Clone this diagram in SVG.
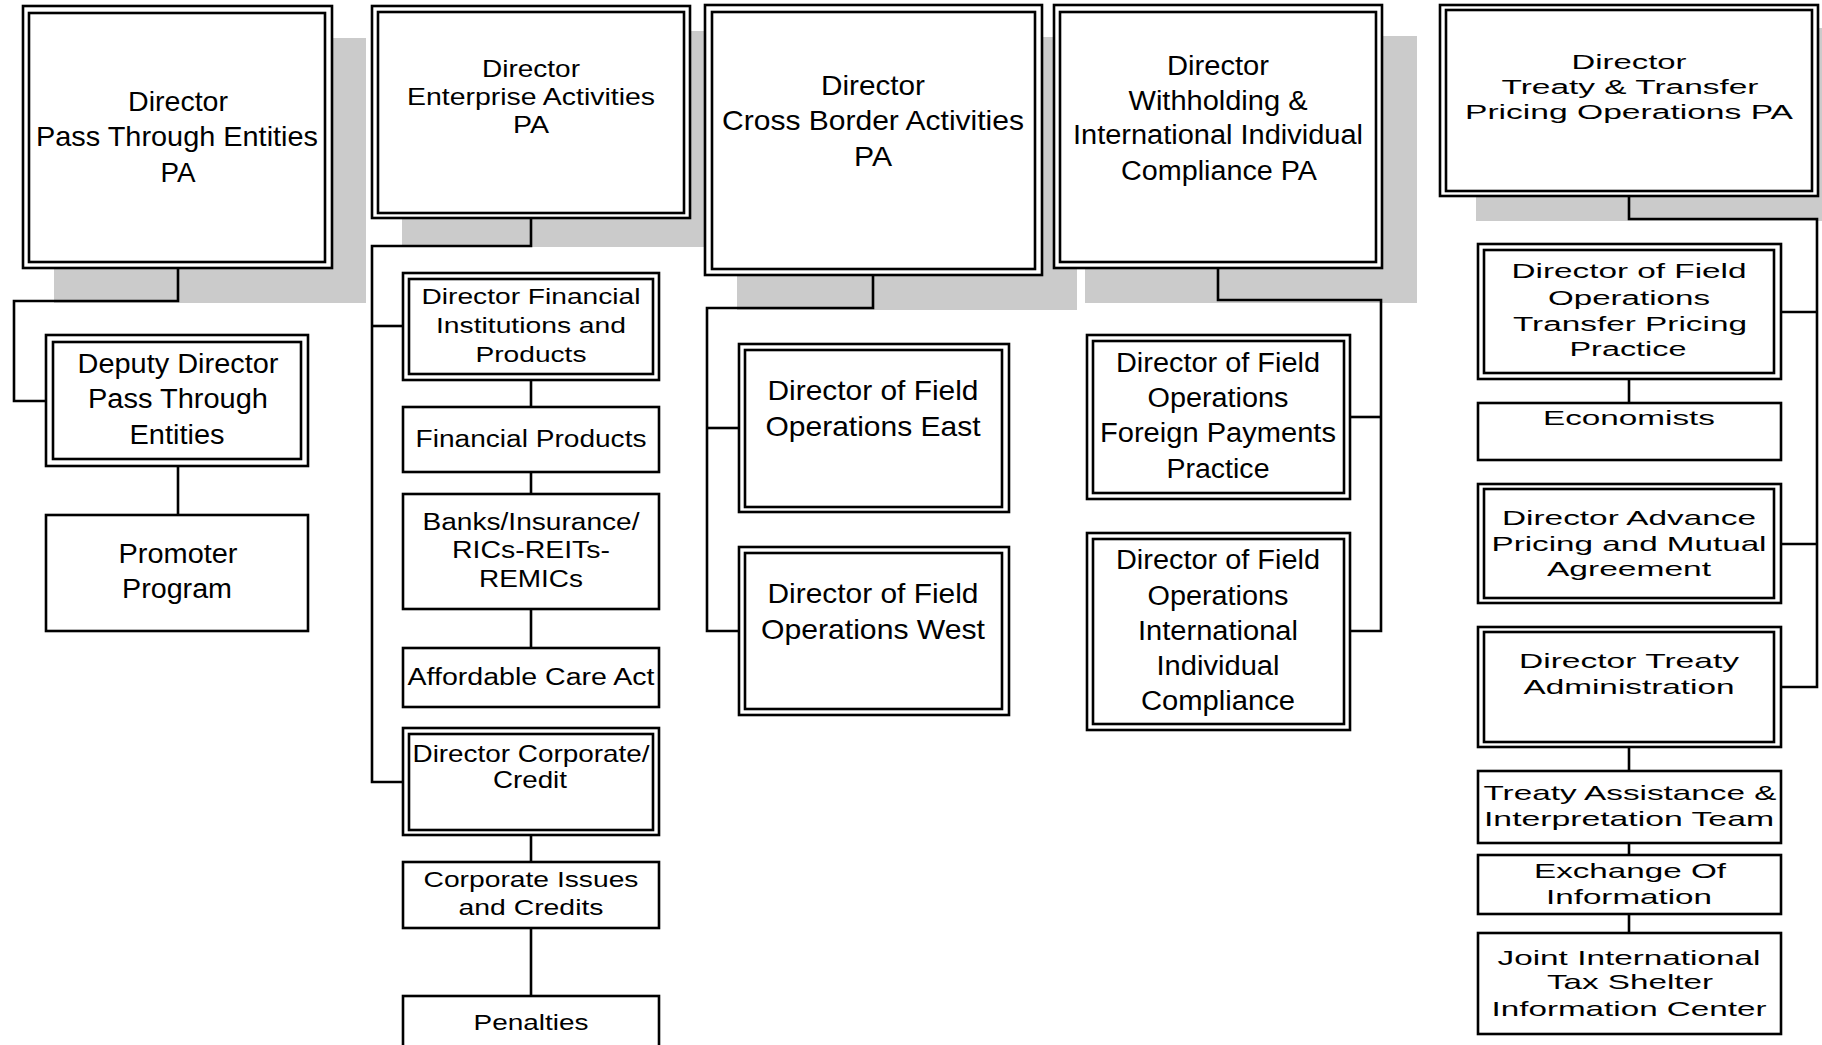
<svg xmlns="http://www.w3.org/2000/svg" width="1822" height="1045" viewBox="0 0 1822 1045">
<style>
.bg{fill:#ffffff}
.sh{fill:#cbcbcb;stroke:none}
.box{fill:#ffffff;stroke:#000;stroke-width:2.6}
.in{fill:none;stroke:#000;stroke-width:2.6}
.cn{fill:none;stroke:#000;stroke-width:2.6;stroke-linejoin:miter}
text{font-family:"Liberation Sans",Arial,sans-serif;fill:#000;text-anchor:middle}
.f28{font-size:28px}.f27{font-size:27px}.f24{font-size:24px}.f23{font-size:23px}.f22{font-size:22px}.f21{font-size:21px}.f20{font-size:20px}
</style>
<rect class="bg" x="0" y="0" width="1822" height="1045"/>
<g id="shadows">
<rect class="sh" x="54" y="38" width="312" height="265"/>
<rect class="sh" x="402" y="31" width="320" height="216"/>
<rect class="sh" x="737" y="37" width="340" height="273"/>
<rect class="sh" x="1085" y="36" width="332" height="267"/>
<rect class="sh" x="1476" y="28" width="346" height="193"/>
</g>
<g id="connectors">
<polyline class="cn" points="178,269 178,301 14,301 14,401 45,401"/>
<line class="cn" x1="178" y1="467" x2="178" y2="515"/>
<polyline class="cn" points="531,219 531,246 372,246 372,782 403,782"/>
<line class="cn" x1="372" y1="326" x2="403" y2="326"/>
<line class="cn" x1="531" y1="380" x2="531" y2="407"/>
<line class="cn" x1="531" y1="472" x2="531" y2="494"/>
<line class="cn" x1="531" y1="609" x2="531" y2="648"/>
<line class="cn" x1="531" y1="835" x2="531" y2="862"/>
<line class="cn" x1="531" y1="928" x2="531" y2="996"/>
<polyline class="cn" points="873,276 873,308 707,308 707,631 738,631"/>
<line class="cn" x1="707" y1="428" x2="738" y2="428"/>
<polyline class="cn" points="1218,269 1218,300 1381,300 1381,631 1350,631"/>
<line class="cn" x1="1350" y1="417" x2="1381" y2="417"/>
<polyline class="cn" points="1629,197 1629,219 1817,219 1817,687 1781,687"/>
<line class="cn" x1="1781" y1="312" x2="1817" y2="312"/>
<line class="cn" x1="1781" y1="544" x2="1817" y2="544"/>
<line class="cn" x1="1629" y1="379" x2="1629" y2="403"/>
<line class="cn" x1="1629" y1="747" x2="1629" y2="771"/>
<line class="cn" x1="1629" y1="843" x2="1629" y2="855"/>
<line class="cn" x1="1629" y1="914" x2="1629" y2="933"/>
</g>
<g id="n-pass-through-pa">
<rect class="box" x="23" y="6" width="309" height="262"/>
<rect class="in" x="29" y="13" width="296" height="249"/>
<text class="f28" x="178" y="111" textLength="100" lengthAdjust="spacingAndGlyphs">Director</text>
<text class="f28" x="177" y="146" textLength="282" lengthAdjust="spacingAndGlyphs">Pass Through Entities</text>
<text class="f28" x="178" y="182" textLength="35" lengthAdjust="spacingAndGlyphs">PA</text>
</g>
<g id="n-deputy">
<rect class="box" x="46" y="335" width="262" height="131"/>
<rect class="in" x="53" y="342" width="248" height="117"/>
<text class="f27" x="178" y="373" textLength="201" lengthAdjust="spacingAndGlyphs">Deputy Director</text>
<text class="f27" x="178" y="408" textLength="180" lengthAdjust="spacingAndGlyphs">Pass Through</text>
<text class="f27" x="177" y="444" textLength="95" lengthAdjust="spacingAndGlyphs">Entities</text>
</g>
<g id="n-promoter">
<rect class="box" x="46" y="515" width="262" height="116"/>
<text class="f27" x="178" y="563" textLength="119" lengthAdjust="spacingAndGlyphs">Promoter</text>
<text class="f27" x="177" y="598" textLength="110" lengthAdjust="spacingAndGlyphs">Program</text>
</g>
<g id="n-enterprise-pa">
<rect class="box" x="372" y="6" width="318" height="212"/>
<rect class="in" x="378" y="12" width="306" height="201"/>
<text class="f24" x="531" y="77" textLength="98" lengthAdjust="spacingAndGlyphs">Director</text>
<text class="f24" x="531" y="105" textLength="248" lengthAdjust="spacingAndGlyphs">Enterprise Activities</text>
<text class="f24" x="531" y="133" textLength="36" lengthAdjust="spacingAndGlyphs">PA</text>
</g>
<g id="n-financial-institutions">
<rect class="box" x="403" y="273" width="256" height="107"/>
<rect class="in" x="409" y="279" width="244" height="95"/>
<text class="f22" x="531" y="304" textLength="219" lengthAdjust="spacingAndGlyphs">Director Financial</text>
<text class="f22" x="531" y="333" textLength="190" lengthAdjust="spacingAndGlyphs">Institutions and</text>
<text class="f22" x="531" y="362" textLength="111" lengthAdjust="spacingAndGlyphs">Products</text>
</g>
<g id="n-financial-products">
<rect class="box" x="403" y="407" width="256" height="65"/>
<text class="f23" x="531" y="447" textLength="231" lengthAdjust="spacingAndGlyphs">Financial Products</text>
</g>
<g id="n-banks">
<rect class="box" x="403" y="494" width="256" height="115"/>
<text class="f23" x="531" y="530" textLength="217" lengthAdjust="spacingAndGlyphs">Banks/Insurance/</text>
<text class="f23" x="531" y="558" textLength="158" lengthAdjust="spacingAndGlyphs">RICs-REITs-</text>
<text class="f23" x="531" y="587" textLength="104" lengthAdjust="spacingAndGlyphs">REMICs</text>
</g>
<g id="n-aca">
<rect class="box" x="403" y="648" width="256" height="59"/>
<text class="f23" x="531" y="685" textLength="247" lengthAdjust="spacingAndGlyphs">Affordable Care Act</text>
</g>
<g id="n-corporate-credit">
<rect class="box" x="403" y="728" width="256" height="107"/>
<rect class="in" x="409" y="734" width="244" height="96"/>
<text class="f24" x="531" y="762" textLength="237" lengthAdjust="spacingAndGlyphs">Director Corporate/</text>
<text class="f24" x="530" y="788" textLength="74" lengthAdjust="spacingAndGlyphs">Credit</text>
</g>
<g id="n-corporate-issues">
<rect class="box" x="403" y="862" width="256" height="66"/>
<text class="f22" x="531" y="887" textLength="215" lengthAdjust="spacingAndGlyphs">Corporate Issues</text>
<text class="f22" x="531" y="915" textLength="145" lengthAdjust="spacingAndGlyphs">and Credits</text>
</g>
<g id="n-penalties">
<rect class="box" x="403" y="996" width="256" height="60"/>
<text class="f22" x="531" y="1030" textLength="115" lengthAdjust="spacingAndGlyphs">Penalties</text>
</g>
<g id="n-cross-border-pa">
<rect class="box" x="705" y="5" width="337" height="270"/>
<rect class="in" x="712" y="12" width="323" height="257"/>
<text class="f28" x="873" y="95" textLength="104" lengthAdjust="spacingAndGlyphs">Director</text>
<text class="f28" x="873" y="130" textLength="302" lengthAdjust="spacingAndGlyphs">Cross Border Activities</text>
<text class="f28" x="873" y="166" textLength="38" lengthAdjust="spacingAndGlyphs">PA</text>
</g>
<g id="n-east">
<rect class="box" x="739" y="344" width="270" height="168"/>
<rect class="in" x="745" y="350" width="257" height="157"/>
<text class="f28" x="873" y="400" textLength="211" lengthAdjust="spacingAndGlyphs">Director of Field</text>
<text class="f28" x="873" y="436" textLength="215" lengthAdjust="spacingAndGlyphs">Operations East</text>
</g>
<g id="n-west">
<rect class="box" x="739" y="547" width="270" height="168"/>
<rect class="in" x="745" y="553" width="257" height="156"/>
<text class="f28" x="873" y="603" textLength="211" lengthAdjust="spacingAndGlyphs">Director of Field</text>
<text class="f28" x="873" y="639" textLength="224" lengthAdjust="spacingAndGlyphs">Operations West</text>
</g>
<g id="n-withholding-pa">
<rect class="box" x="1054" y="5" width="328" height="263"/>
<rect class="in" x="1060" y="12" width="316" height="250"/>
<text class="f27" x="1218" y="75" textLength="102" lengthAdjust="spacingAndGlyphs">Director</text>
<text class="f27" x="1218" y="110" textLength="179" lengthAdjust="spacingAndGlyphs">Withholding &amp;</text>
<text class="f27" x="1218" y="144" textLength="290" lengthAdjust="spacingAndGlyphs">International Individual</text>
<text class="f27" x="1219" y="180" textLength="196" lengthAdjust="spacingAndGlyphs">Compliance PA</text>
</g>
<g id="n-foreign-payments">
<rect class="box" x="1087" y="335" width="263" height="164"/>
<rect class="in" x="1093" y="341" width="251" height="152"/>
<text class="f27" x="1218" y="372" textLength="204" lengthAdjust="spacingAndGlyphs">Director of Field</text>
<text class="f27" x="1218" y="407" textLength="141" lengthAdjust="spacingAndGlyphs">Operations</text>
<text class="f27" x="1218" y="442" textLength="236" lengthAdjust="spacingAndGlyphs">Foreign Payments</text>
<text class="f27" x="1218" y="478" textLength="103" lengthAdjust="spacingAndGlyphs">Practice</text>
</g>
<g id="n-iic">
<rect class="box" x="1087" y="533" width="263" height="197"/>
<rect class="in" x="1093" y="539" width="251" height="185"/>
<text class="f27" x="1218" y="569" textLength="204" lengthAdjust="spacingAndGlyphs">Director of Field</text>
<text class="f27" x="1218" y="605" textLength="141" lengthAdjust="spacingAndGlyphs">Operations</text>
<text class="f27" x="1218" y="640" textLength="160" lengthAdjust="spacingAndGlyphs">International</text>
<text class="f27" x="1218" y="675" textLength="123" lengthAdjust="spacingAndGlyphs">Individual</text>
<text class="f27" x="1218" y="710" textLength="154" lengthAdjust="spacingAndGlyphs">Compliance</text>
</g>
<g id="n-treaty-pa">
<rect class="box" x="1440" y="5" width="378" height="191"/>
<rect class="in" x="1446" y="10" width="366" height="181"/>
<text class="f20" x="1629" y="69" textLength="115" lengthAdjust="spacingAndGlyphs">Director</text>
<text class="f20" x="1630" y="94" textLength="257" lengthAdjust="spacingAndGlyphs">Treaty &amp; Transfer</text>
<text class="f20" x="1629" y="119" textLength="328" lengthAdjust="spacingAndGlyphs">Pricing Operations PA</text>
</g>
<g id="n-transfer-pricing">
<rect class="box" x="1478" y="244" width="303" height="135"/>
<rect class="in" x="1484" y="250" width="290" height="123"/>
<text class="f20" x="1629" y="278" textLength="235" lengthAdjust="spacingAndGlyphs">Director of Field</text>
<text class="f20" x="1629" y="305" textLength="162" lengthAdjust="spacingAndGlyphs">Operations</text>
<text class="f20" x="1630" y="331" textLength="234" lengthAdjust="spacingAndGlyphs">Transfer Pricing</text>
<text class="f20" x="1628" y="356" textLength="117" lengthAdjust="spacingAndGlyphs">Practice</text>
</g>
<g id="n-economists">
<rect class="box" x="1478" y="403" width="303" height="57"/>
<text class="f20" x="1629" y="425" textLength="172" lengthAdjust="spacingAndGlyphs">Economists</text>
</g>
<g id="n-apma">
<rect class="box" x="1478" y="484" width="303" height="119"/>
<rect class="in" x="1484" y="489" width="290" height="109"/>
<text class="f21" x="1629" y="525" textLength="254" lengthAdjust="spacingAndGlyphs">Director Advance</text>
<text class="f21" x="1629" y="551" textLength="275" lengthAdjust="spacingAndGlyphs">Pricing and Mutual</text>
<text class="f21" x="1629" y="576" textLength="164" lengthAdjust="spacingAndGlyphs">Agreement</text>
</g>
<g id="n-treaty-admin">
<rect class="box" x="1478" y="627" width="303" height="120"/>
<rect class="in" x="1484" y="632" width="290" height="110"/>
<text class="f21" x="1629" y="668" textLength="220" lengthAdjust="spacingAndGlyphs">Director Treaty</text>
<text class="f21" x="1629" y="694" textLength="211" lengthAdjust="spacingAndGlyphs">Administration</text>
</g>
<g id="n-tait">
<rect class="box" x="1478" y="771" width="303" height="72"/>
<text class="f21" x="1630" y="800" textLength="293" lengthAdjust="spacingAndGlyphs">Treaty Assistance &amp;</text>
<text class="f21" x="1629" y="826" textLength="290" lengthAdjust="spacingAndGlyphs">Interpretation Team</text>
</g>
<g id="n-exchange">
<rect class="box" x="1478" y="855" width="303" height="59"/>
<text class="f21" x="1630" y="878" textLength="192" lengthAdjust="spacingAndGlyphs">Exchange Of</text>
<text class="f21" x="1629" y="904" textLength="166" lengthAdjust="spacingAndGlyphs">Information</text>
</g>
<g id="n-jitsic">
<rect class="box" x="1478" y="933" width="303" height="101"/>
<text class="f21" x="1629" y="965" textLength="263" lengthAdjust="spacingAndGlyphs">Joint International</text>
<text class="f21" x="1630" y="989" textLength="166" lengthAdjust="spacingAndGlyphs">Tax Shelter</text>
<text class="f21" x="1629" y="1016" textLength="275" lengthAdjust="spacingAndGlyphs">Information Center</text>
</g>
</svg>
